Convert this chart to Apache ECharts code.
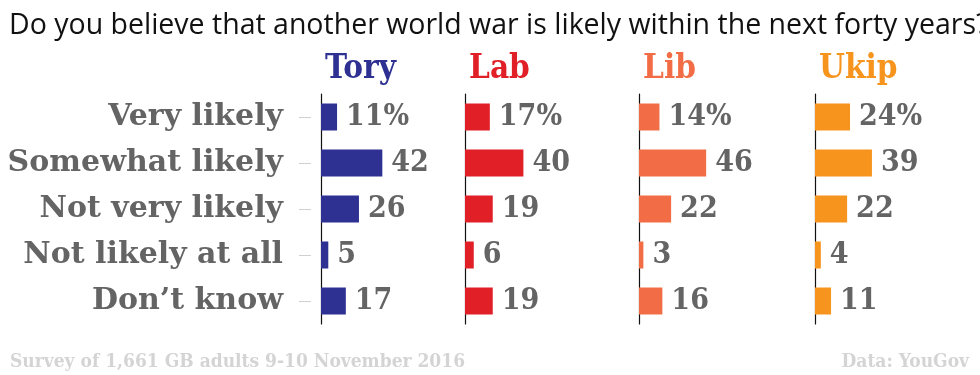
<!DOCTYPE html>
<html>
<head>
<meta charset="utf-8">
<script src="https://cdn.jsdelivr.net/npm/echarts@6/dist/echarts.min.js"></script>
<style>
    html, body { margin: 0; padding: 0; background: #fff; }
    #chart { width: 980px; height: 375px; }
</style>
</head>
<body>
<div id="chart"></div>
<script>
var categories = ['Very likely', 'Somewhat likely', 'Not very likely', 'Not likely at all', 'Don\u2019t know'];
var parties = ['Tory', 'Lab', 'Lib', 'Ukip'];
var tory = [11, 42, 26, 5, 17];
var lab = [17, 40, 19, 6, 19];
var lib = [14, 46, 22, 3, 16];
var ukip = [24, 39, 22, 4, 11];
var partyValues = [tory, lab, lib, ukip];
var partyColors = ['#2e3192', '#e01f26', '#f26d45', '#f7941e'];

var slab = 'DejaVu Serif Condensed';
var grey = '#646464';
var gridLefts = [321, 465, 639, 815];

var grids = [], xAxes = [], yAxes = [], series = [];
var titles = [
    {
        text: 'Do you believe that another world war is likely within the next forty years?',
        left: 4, top: 6,
        textStyle: { fontFamily: 'Open Sans', fontWeight: 'normal', fontSize: 28.5, color: '#111' }
    },
    {
        text: 'Survey of 1,661 GB adults 9-10 November 2016',
        left: 5, top: 348,
        textStyle: { fontFamily: slab, fontWeight: 'bold', fontSize: 19, color: '#d4d4d4' }
    },
    {
        text: 'Data: YouGov',
        right: 6, top: 348,
        textStyle: { fontFamily: slab, fontWeight: 'bold', fontSize: 19, color: '#d4d4d4' }
    }
];

parties.forEach(function (name, i) {
    grids.push({ left: gridLefts[i], top: 94, width: 146, height: 230 });
    titles.push({
        text: name,
        left: gridLefts[i] - 1, top: 48,
        textStyle: { fontFamily: slab, fontWeight: 'bold', fontSize: 33, color: partyColors[i] }
    });
    xAxes.push({
        gridIndex: i, type: 'value', min: 0, max: 100,
        show: false
    });
    yAxes.push({
        gridIndex: i, type: 'category', data: categories, inverse: true,
        position: 'left',
        axisLine: { show: true, lineStyle: { color: '#111', width: 1.2 } },
        axisTick: { show: false },
        axisLabel: { show: false },
        splitLine: { show: false }
    });
    series.push({
        type: 'bar',
        xAxisIndex: i,
        yAxisIndex: i,
        data: partyValues[i],
        barWidth: 27,
        itemStyle: { color: partyColors[i] },
        label: {
            show: true,
            position: 'right',
            distance: 9,
            fontFamily: slab,
            fontWeight: 'bold',
            fontSize: 30,
            color: grey,
            formatter: function (p) {
                return p.dataIndex === 0 ? p.value + '%' : p.value;
            }
        },
        silent: true
    });
});

// category labels and ticks, set a little left of the first axis line
yAxes.push({
    gridIndex: 0, type: 'category', data: categories, inverse: true,
    position: 'left',
    offset: 10,
    axisLine: { show: false },
    axisTick: { show: true, alignWithLabel: true, length: 12, lineStyle: { color: '#d0d0d0' } },
    axisLabel: {
        margin: 28,
        fontFamily: 'DejaVu Serif', fontWeight: 'bold', fontSize: 30, color: grey
    }
});

var chart = echarts.init(document.getElementById('chart'));
chart.setOption({
    animation: false,
    backgroundColor: '#fff',
    title: titles,
    grid: grids,
    xAxis: xAxes,
    yAxis: yAxes,
    series: series
});
</script>
</body>
</html>
